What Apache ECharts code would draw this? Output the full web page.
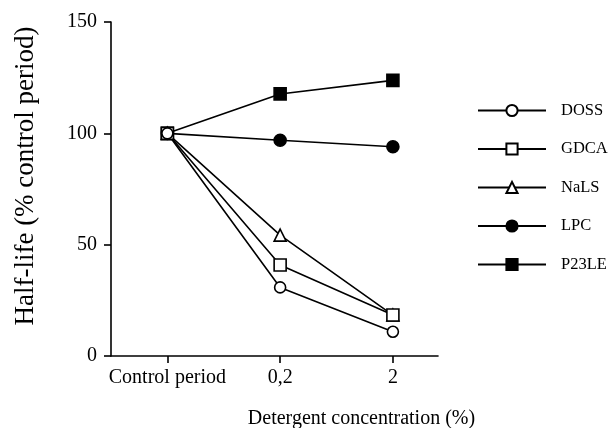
<!DOCTYPE html>
<html>
<head>
<meta charset="utf-8">
<script src="https://cdn.jsdelivr.net/npm/echarts@6/dist/echarts.min.js"></script>
<style>html,body{margin:0;padding:0;background:#fff;}#c{width:611px;height:428px;}</style>
</head>
<body>
<div id="c"></div>
<script>
const categories = ['Control period', '0,2', '2'];
const yTicks = [0, 50, 100, 150];
const DOSS = [100, 30.8, 10.9];
const GDCA = [100, 40.9, 18.4];
const NaLS = [100, 54.3, 18.4];
const LPC = [100, 96.9, 94.0];
const P23LE = [100, 117.7, 123.8];

const FONT = '"Liberation Serif", "DejaVu Serif", serif';
const chart = echarts.init(document.getElementById('c'));

function mk(name, data, symbol, filled, size) {
  return {
    name: name,
    type: 'line',
    data: data.map((v, i) => [i, v]),
    symbol: symbol,
    symbolSize: size,
    showAllSymbol: true,
    lineStyle: { color: '#000', width: 1.6 },
    itemStyle: { color: filled ? '#000' : '#fff', borderColor: '#000', borderWidth: 1.6 },
    emphasis: { disabled: true },
    animation: false
  };
}

chart.setOption({
  backgroundColor: '#fff',
  animation: false,
  grid: { left: 111, top: 22, right: 173, bottom: 72, containLabel: false, outerBoundsMode: 'none' },
  legend: {
    orient: 'vertical',
    left: 477,
    top: 102,
    padding: 0,
    itemWidth: 68,
    itemHeight: 14,
    itemGap: 21.5,
    data: ['DOSS', 'GDCA', 'NaLS', 'LPC', 'P23LE'],
    textStyle: { fontFamily: FONT, fontSize: 16.5, color: '#000', padding: [0, 0, 0, 10] },
    selectedMode: false
  },
  xAxis: {
    type: 'value',
    min: -0.5,
    max: 2.4,
    name: 'Detergent concentration (%)',
    nameLocation: 'middle',
    nameGap: 53,
    nameTextStyle: { fontFamily: FONT, fontSize: 20, color: '#000', padding: [0, 0, 0, 174] },
    axisLine: { onZero: false, lineStyle: { color: '#000', width: 1.6 } },
    axisTick: { show: true, length: 7, lineStyle: { color: '#000', width: 1.6 }, customValues: [0, 1, 2] },
    axisLabel: {
      customValues: [0, 1, 2],
      formatter: v => categories[Math.round(v)],
      fontFamily: FONT, fontSize: 20, color: '#000', margin: 12
    },
    splitLine: { show: false }
  },
  yAxis: {
    type: 'value',
    min: 0,
    max: 150,
    interval: 50,
    name: 'Half-life (% control period)',
    nameLocation: 'middle',
    nameGap: 72,
    nameTextStyle: { fontFamily: FONT, fontSize: 27, color: '#000', padding: [0, 0, 0, 26] },
    axisLine: { show: true, onZero: false, lineStyle: { color: '#000', width: 1.6 } },
    axisTick: { show: true, length: 7, lineStyle: { color: '#000', width: 1.6 } },
    axisLabel: { fontFamily: FONT, fontSize: 20, color: '#000', margin: 14,
      formatter: v => yTicks.includes(v) ? String(v) : '' },
    splitLine: { show: false }
  },
  series: [
    mk('P23LE', P23LE, 'rect', true, 12),
    mk('LPC', LPC, 'circle', true, 12),
    mk('NaLS', NaLS, 'triangle', false, 12),
    mk('GDCA', GDCA, 'rect', false, 12),
    mk('DOSS', DOSS, 'circle', false, 11)
  ]
});
</script>
</body>
</html>
